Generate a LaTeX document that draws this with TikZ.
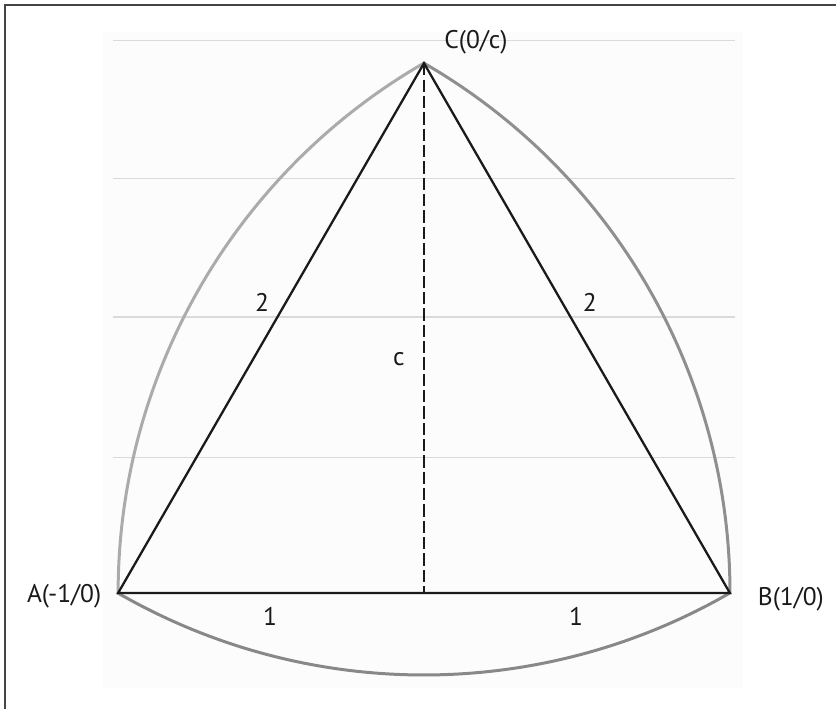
\documentclass[tikz,border=0pt]{standalone}
\usepackage{fontspec}
\setmainfont{PT Sans}
\usetikzlibrary{positioning}
\definecolor{ink}{HTML}{1A1A1A}
\definecolor{frame}{HTML}{444444}
\definecolor{grid}{HTML}{DADADA}
\definecolor{panel}{HTML}{FCFCFC}
\definecolor{arcleft}{HTML}{ABABAB}
\definecolor{arcright}{HTML}{8F8F8F}
\definecolor{arcbottom}{HTML}{888888}

\begin{document}
\begin{tikzpicture}[
  scale=6.12,
  font=\fontsize{14.5}{16}\selectfont,
  side/.style={line width=1.3pt,draw=ink},
  height/.style={line width=1.5pt,draw=ink,dash pattern=on 7pt off 2.3pt},
  arcline/.style={line width=1.7pt},
  gridline/.style={line width=0.6pt,draw=grid},
  lbl/.style={text=ink,inner sep=0pt}
]
\useasboundingbox (-1.3856,-0.3791) rectangle (1.3464,1.9379);

% frame and plot area
\draw[frame,line width=1.1pt] (1.3464,1.9216) -- (-1.3693,1.9216) -- (-1.3693,-0.3791);
\fill[panel] (-1.049,-0.310) rectangle (1.042,1.833);
\foreach \y in {1.804,1.353,0.902,0.444}
  \draw[gridline] (-1.016,\y) -- (1.016,\y);

% points
\coordinate (A) at (-1,0);
\coordinate (B) at (1,0);
\coordinate (C) at (0,{sqrt(3)});
\coordinate (M) at (0,0);

% Reuleaux arcs
\draw[arcline,draw=arcleft] (A) arc[start angle=180,end angle=120,radius=2];
\draw[arcline,draw=arcright] (C) arc[start angle=60,end angle=0,radius=2];
\draw[arcline,draw=arcbottom] (B) arc[start angle=-60,end angle=-120,radius=2];

% triangle and height
\draw[side] (A) -- (B) -- (C) -- cycle;
\draw[height] (C) -- (M);

% labels
\node[lbl] (labA) at (-1.176,-0.010) {A(-1/0)};
\node[lbl] (labB) at (1.199,-0.020) {B(1/0)};
\node[lbl] (labC) at (0.170,1.801) {C(0/c)};
\node[lbl] (sideAC) at (-0.529,0.951) {2};
\node[lbl] (sideBC) at (0.542,0.951) {2};
\node[lbl] (labc) at (-0.082,0.765) {c};
\node[lbl] (halfA) at (-0.503,-0.078) {1};
\node[lbl] (halfB) at (0.497,-0.078) {1};

\end{tikzpicture}
\end{document}
